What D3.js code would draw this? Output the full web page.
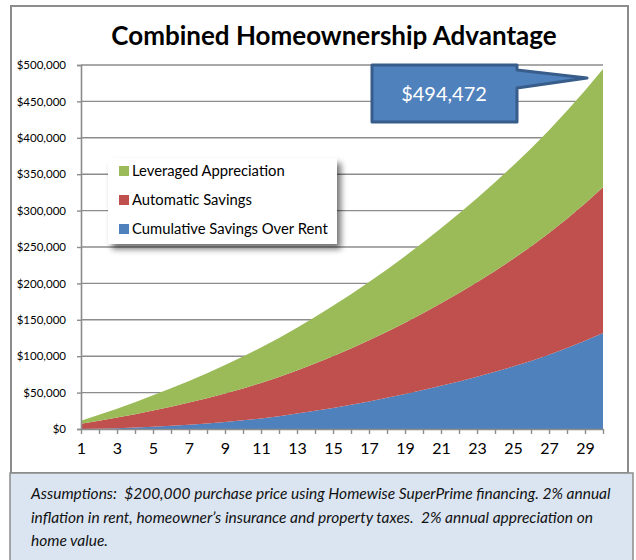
<!DOCTYPE html>
<html>
<head>
<meta charset="utf-8">
<script src="https://cdn.jsdelivr.net/npm/d3@7"></script>
<style>
  body { margin: 0; background: #fff; }
  svg { display: block; font-family: Lato, "Open Sans", sans-serif; }
</style>
</head>
<body>
<svg id="chart" width="636" height="560"></svg>
<script>
// Data (years 1..30, stacked bands)
const years = d3.range(1, 31);
const cumulativeSavings = [0, 500, 1100, 2000, 3100, 4400, 5900, 7600, 9600, 11900,
  14500, 17600, 21200, 25000, 29000, 33300, 37900, 42800, 48000, 53500,
  59300, 65400, 71800, 78600, 85800, 93400, 102000, 111300, 121300, 131900];
const automaticSavings = [7300, 10900, 14600, 18400, 22300, 26300, 30500, 34800, 39300, 43900,
  48700, 53700, 59200, 65000, 71000, 77300, 83900, 90800, 98000, 105500,
  113300, 121400, 129800, 138600, 147700, 157200, 167100, 177500, 188500, 200300];
const leveragedAppreciation = [4000, 8100, 12200, 16500, 20800, 25200, 29700, 34300, 39000, 43800,
  48700, 53600, 58700, 63900, 69200, 74600, 80000, 85600, 91400, 97200,
  103100, 109200, 115400, 121700, 128100, 134700, 141400, 148200, 155200, 162272];
const seriesNames = ["Cumulative Savings Over Rent", "Automatic Savings", "Leveraged Appreciation"];
const seriesColors = ["#4f81bd", "#c0504d", "#9bbb59"];
const yTicks = d3.range(0, 500001, 50000);
const chartTitle = "Combined Homeownership Advantage";
const assumptions = [
  "Assumptions:  $200,000 purchase price using Homewise SuperPrime financing. 2% annual",
  "inflation in rent, homeowner\u2019s insurance and property taxes.  2% annual appreciation on",
  "home value."
];

const svg = d3.select("#chart");

// outer chart frame
svg.append("rect")
  .attr("x", 11).attr("y", 6).attr("width", 617).attr("height", 467)
  .attr("fill", "#fff").attr("stroke", "#8c8c8c").attr("stroke-width", 2);

const x = d3.scaleLinear().domain([1, 30]).range([81, 603]);
const y = d3.scaleLinear().domain([0, 500000]).range([429, 65]);

// title
svg.append("text")
  .attr("x", 334).attr("y", 45)
  .attr("text-anchor", "middle")
  .style("font-size", "26px").style("font-weight", "bold")
  .text(chartTitle);

// grid lines
svg.append("g")
  .selectAll("line")
  .data(yTicks.slice(1))
  .join("line")
  .attr("x1", x(1)).attr("x2", x(30))
  .attr("y1", d => y(d)).attr("y2", d => y(d))
  .attr("stroke", "#8c8c8c").attr("stroke-width", 1.4);

// stacked areas
const table = years.map((yr, i) => ({
  year: yr,
  s0: cumulativeSavings[i],
  s1: automaticSavings[i],
  s2: leveragedAppreciation[i]
}));
const stacked = d3.stack().keys(["s0", "s1", "s2"])(table);

const area = d3.area()
  .x(d => x(d.data.year))
  .y0(d => y(d[0]))
  .y1(d => y(d[1]));

svg.append("g")
  .selectAll("path")
  .data(stacked)
  .join("path")
  .attr("fill", (d, i) => seriesColors[i])
  .attr("d", area);

// y axis
const yAxis = svg.append("g")
  .attr("transform", `translate(${x(1)},0)`)
  .call(d3.axisLeft(y).tickValues(yTicks).tickSize(4).tickPadding(11)
    .tickFormat(d3.format("$,")));
yAxis.select(".domain").attr("stroke", "#8c8c8c").attr("stroke-width", 1.6);
yAxis.selectAll("line").attr("stroke", "#8c8c8c").attr("stroke-width", 1.4);
yAxis.selectAll("text")
  .style("font-size", "11.5px").style("font-family", "Lato, sans-serif").attr("fill", "#000");

// x axis
const xAxis = svg.append("g")
  .attr("transform", `translate(0,${y(0)})`)
  .call(d3.axisBottom(x).tickValues(years).tickSize(5).tickSizeOuter(0)
    .tickFormat(d => (d % 2 === 1 ? d : "")));
xAxis.select(".domain").attr("stroke", "#8c8c8c").attr("stroke-width", 1.6);
xAxis.selectAll("line").attr("stroke", "#8c8c8c").attr("stroke-width", 1.4);
xAxis.selectAll("text")
  .attr("dy", "1.05em")
  .style("font-size", "16px").style("font-family", "Lato, sans-serif").attr("fill", "#000");

// legend with soft shadow
const defs = svg.append("defs");
const shadow = defs.append("filter").attr("id", "shadow")
  .attr("x", "-10%").attr("y", "-10%").attr("width", "130%").attr("height", "140%");
shadow.append("feGaussianBlur").attr("in", "SourceAlpha").attr("stdDeviation", 3);
shadow.append("feOffset").attr("dx", 4).attr("dy", 5).attr("result", "blur");
shadow.append("feComponentTransfer").append("feFuncA").attr("type", "linear").attr("slope", 0.55);
const merge = shadow.append("feMerge");
merge.append("feMergeNode");
merge.append("feMergeNode").attr("in", "SourceGraphic");

const legend = svg.append("g").attr("transform", "translate(108,158)");
legend.append("rect")
  .attr("width", 229).attr("height", 86)
  .attr("fill", "#fff").attr("filter", "url(#shadow)");
const legendOrder = [2, 1, 0];
const item = legend.selectAll("g.item")
  .data(legendOrder)
  .join("g")
  .attr("class", "item")
  .attr("transform", (d, i) => `translate(11,${13 + i * 29})`);
item.append("rect")
  .attr("y", -5).attr("width", 10).attr("height", 10)
  .attr("fill", d => seriesColors[d]);
item.append("text")
  .attr("x", 13).attr("dy", "0.35em")
  .style("font-size", "14.8px")
  .text(d => seriesNames[d]);

// callout with final total
const finalTotal = cumulativeSavings[29] + automaticSavings[29] + leveragedAppreciation[29];
const callout = svg.append("g");
callout.append("path")
  .attr("d", "M372,65 H517 V70 L587,78 L517,88 V122 H372 Z")
  .attr("fill", "#4f81bd").attr("stroke", "#385d8a")
  .attr("stroke-width", 3).attr("stroke-linejoin", "round");
callout.append("text")
  .attr("x", 444).attr("y", 101)
  .attr("text-anchor", "middle")
  .attr("fill", "#fff")
  .style("font-size", "20px")
  .text(d3.format("$,")(finalTotal));

// assumptions box
svg.append("rect")
  .attr("x", 10).attr("y", 473).attr("width", 623).attr("height", 90)
  .attr("fill", "#dbe5f1").attr("stroke", "#8c8c8c").attr("stroke-width", 1.5);
svg.append("g")
  .selectAll("text")
  .data(assumptions)
  .join("text")
  .attr("x", 31).attr("y", (d, i) => 499 + i * 23.5)
  .style("font-size", "15.5px").style("font-style", "italic")
  .style("white-space", "pre")
  .attr("fill", "#111")
  .text(d => d);
</script>
</body>
</html>
